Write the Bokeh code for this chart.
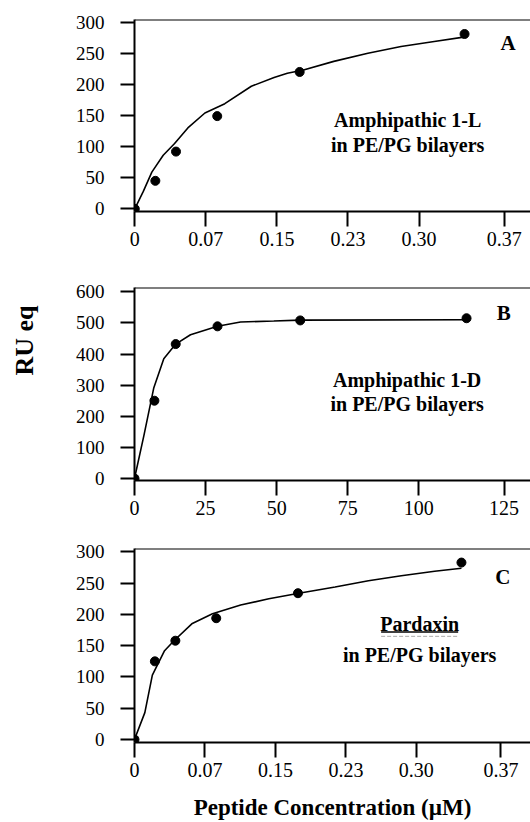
from math import pi
from bokeh.plotting import figure
from bokeh.layouts import column, row
from bokeh.models import Range1d, FixedTicker, Label, Span, Arrow
from bokeh.embed import file_html
from bokeh.resources import INLINE

# ---------------- data ----------------
# Panel A: Amphipathic 1-L (concentration in uM)
a_conc = [0, 0.0217, 0.0435, 0.087, 0.174, 0.348]
a_ru = [0, 45, 92, 149, 220, 281]
a_fit_x = [0, 0.009, 0.018, 0.030, 0.042, 0.056, 0.074, 0.095, 0.123, 0.147,
           0.161, 0.178, 0.21, 0.246, 0.281, 0.316, 0.347]
a_fit_y = [0, 28, 59, 86, 105, 130, 154, 169, 197, 211, 218, 223, 237, 250,
           261, 269, 276]

# Panel B: Amphipathic 1-D
b_conc = [0, 7, 14.5, 29.2, 58.3, 116.8]
b_ru = [0, 250, 432, 489, 508, 515]
b_fit_x = [0, 3.3, 6.8, 10.3, 14.5, 19.7, 29.2, 37.3, 49, 58.3, 116.8]
b_fit_y = [0, 138, 292, 385, 432, 462, 489, 503, 506, 509, 510]

# Panel C: Pardaxin
c_conc = [0, 0.0217, 0.0435, 0.087, 0.174, 0.348]
c_ru = [0, 125, 158, 194, 234, 283]
c_fit_x = [0, 0.011, 0.019, 0.032, 0.042, 0.061, 0.083, 0.113, 0.143, 0.175,
           0.2135, 0.249, 0.284, 0.3195, 0.348]
c_fit_y = [0, 43, 103, 142, 158, 185, 201, 215, 225, 234, 244, 254, 262, 269, 274]

# tick positions / labels
um_ticks = [0, 0.075, 0.15, 0.225, 0.30, 0.39]
um_tick_labels = ["0", "0.07", "0.15", "0.23", "0.30", "0.37"]
b_ticks = [0, 25, 50, 75, 100, 130]
b_tick_labels = ["0", "25", "50", "75", "100", "125"]
y300_ticks = [0, 50, 100, 150, 200, 250, 300]
y600_ticks = [0, 100, 200, 300, 400, 500, 600]

SERIF = "Liberation Serif"
LEFT_W = 40
PANEL_W = 530 - LEFT_W


def panel(xs, ys, fx, fy, xr, yr, xticks, xlabels, yticks, height,
          bl, bt, bb, panel_letter, letter_pos, lines):
    p = figure(width=PANEL_W, height=height, output_backend="svg",
               toolbar_location=None, x_range=Range1d(*xr), y_range=Range1d(*yr),
               min_border_left=bl, min_border_right=0, min_border_top=bt,
               min_border_bottom=bb, background_fill_color="white",
               border_fill_color="white")
    p.outline_line_color = None
    p.xgrid.grid_line_color = None
    p.ygrid.grid_line_color = None

    p.line(fx, fy, line_color="black", line_width=1.6)
    p.scatter(xs, ys, size=9, fill_color="black", line_color="black")

    p.add_layout(Span(location=yr[1], dimension="width", line_color="black",
                      line_width=2))

    for ax in (p.xaxis[0], p.yaxis[0]):
        ax.axis_line_width = 2
        ax.axis_line_color = "black"
        ax.major_tick_line_width = 2
        ax.major_tick_line_color = "black"
        ax.major_tick_in = 0
        ax.minor_tick_line_color = None
        ax.major_label_text_font = SERIF
        ax.major_label_text_color = "black"

    p.xaxis.ticker = FixedTicker(ticks=xticks)
    p.xaxis.major_label_overrides = {t: l for t, l in zip(xticks, xlabels)}
    p.xaxis.major_tick_out = 15
    p.xaxis.major_label_standoff = 5
    p.xaxis.major_label_text_font_size = "20px"

    p.yaxis.ticker = FixedTicker(ticks=yticks)
    p.yaxis.major_tick_out = 14
    p.yaxis.major_label_standoff = 16
    p.yaxis.major_label_text_font_size = "19px"

    p.add_layout(Label(x=letter_pos[0], y=letter_pos[1], text=panel_letter,
                       text_font=SERIF, text_font_style="bold",
                       text_font_size="21px", text_align="center",
                       text_baseline="middle", text_color="black"))
    for (tx, ty, t) in lines:
        p.add_layout(Label(x=tx, y=ty, text=t, text_font=SERIF,
                           text_font_style="bold", text_font_size="20px",
                           text_align="center", text_baseline="middle",
                           text_color="black"))
    return p


pA = panel(a_conc, a_ru, a_fit_x, a_fit_y, (-0.0003, 0.4176), (-4.3, 304.3),
           um_ticks, um_tick_labels, y300_ticks, 261, 133 - LEFT_W, 19, 50,
           "A", (0.394, 266.5),
           [(0.288, 142, "Amphipathic 1-L"), (0.288, 102.7, "in PE/PG bilayers")])

pB = panel(b_conc, b_ru, b_fit_x, b_fit_y, (0, 139.3), (-6.4, 613.8),
           b_ticks, b_tick_labels, y600_ticks, 269, 134 - LEFT_W, 26, 50,
           "B", (129.9, 533),
           [(95.9, 316.5, "Amphipathic 1-D"), (95.9, 239.6, "in PE/PG bilayers")])

pC = panel(c_conc, c_ru, c_fit_x, c_fit_y, (0, 0.4215), (-4.8, 305.5),
           um_ticks, um_tick_labels, y300_ticks, 292, 132 - LEFT_W, 18, 80,
           "C", (0.392, 259.4),
           [(0.3035, 185, "Pardaxin"), (0.3035, 135, "in PE/PG bilayers")])
pC.add_layout(Arrow(end=None, x_start=0.2625, y_start=172, x_end=0.3445,
                    y_end=172, line_color="black", line_width=1.5))
pC.add_layout(Arrow(end=None, x_start=0.2625, y_start=165, x_end=0.3445,
                    y_end=165, line_color="#aaaaaa", line_width=1,
                    line_dash="4 2"))
pC.xaxis.axis_label = "Peptide Concentration (\u00b5M)"
pC.xaxis.axis_label_text_font = SERIF
pC.xaxis.axis_label_text_font_style = "bold"
pC.xaxis.axis_label_text_font_size = "23px"
pC.xaxis.axis_label_text_color = "black"
pC.xaxis.axis_label_standoff = 15

# left strip carrying the shared y-axis title
TOTAL_H = 261 + 269 + 292
pL = figure(width=LEFT_W, height=TOTAL_H, output_backend="svg",
            toolbar_location=None, x_range=Range1d(0, LEFT_W),
            y_range=Range1d(0, TOTAL_H), x_axis_type=None, y_axis_type=None,
            min_border_left=0, min_border_right=0, min_border_top=0,
            min_border_bottom=0)
pL.outline_line_color = None
pL.xgrid.grid_line_color = None
pL.ygrid.grid_line_color = None
pL.add_layout(Label(x=24, y=TOTAL_H - 340, text="RU eq", angle=pi / 2,
                    text_font=SERIF, text_font_style="bold",
                    text_font_size="26px", text_align="center",
                    text_baseline="middle", text_color="black"))

layout = row(pL, column(pA, pB, pC, spacing=0), spacing=0)
open("out.html", "w").write(file_html(layout, INLINE))
